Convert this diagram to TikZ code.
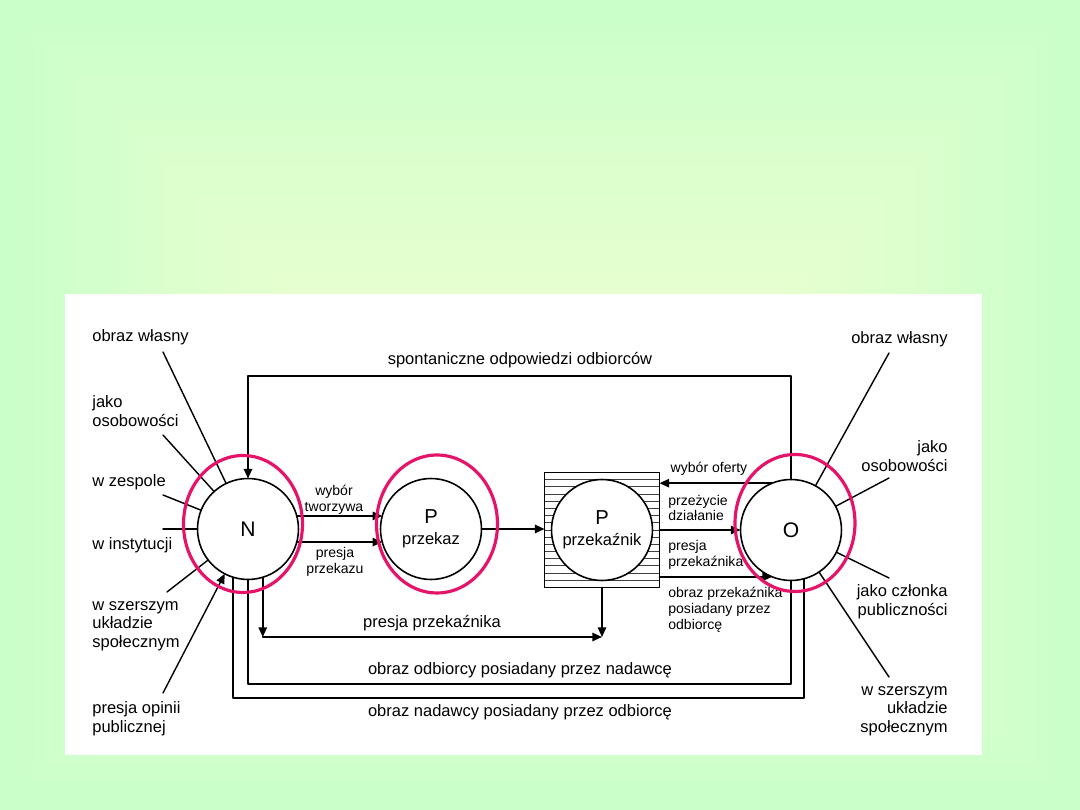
\documentclass[tikz,border=0pt]{standalone}
\usepackage{fontspec}
\setmainfont{Liberation Sans}
\usetikzlibrary{calc,arrows.meta}

\definecolor{bgout}{RGB}{202,255,202}
\definecolor{bgin}{RGB}{244,255,210}
\definecolor{ringpink}{RGB}{230,20,105}

\begin{document}
\begin{tikzpicture}[x=0.02cm,y=-0.02cm,line cap=round,line join=round,
  >={Triangle[length=5.5pt,width=4.8pt]},
  wire/.style={line width=0.9pt},
  arr/.style={wire,->},
  spoke/.style={line width=0.8pt},
  osoba/.style={circle,draw,line width=0.9pt,fill=white,minimum size=2.02cm,
    inner sep=0pt,outer sep=0pt,align=center,font=\fontsize{9.4}{12}\selectfont},
  ring/.style={ringpink,line width=1.8pt},
  hatch/.style={black!75,line width=0.5pt},
  opis/.style={inner sep=0pt,font=\fontsize{9.4}{10.6}\selectfont},
  maly/.style={inner sep=0pt,font=\fontsize{8}{9}\selectfont}]

% -----------------------
% Tlo (gradient prostokatny)
% -----------------------
\foreach \i in {0,...,27} {
  \pgfmathtruncatemacro\mix{100*\i/27}
  \fill[bgin!\mix!bgout] (15*\i,15*\i) rectangle (1080-15*\i,810-15*\i);
}
\useasboundingbox (0,0) rectangle (1080,810);
\fill[white] (65,294) rectangle (982,755);

% -----------------------
% Kola: nadawca, przekaz, przekaznik, odbiorca
% -----------------------
\node[osoba] (N) at (248,529) {\fontsize{12}{12}\selectfont N};
\node[osoba] (P) at (431,529) {{\fontsize{11.5}{12}\selectfont P}\\przekaz};

\node[minimum size=2.3cm,inner sep=0pt,outer sep=0pt] (box) at (602,530) {};
\foreach \k in {1,...,15}
  \draw[hatch] ($(box.north west)!\k/16!(box.south west)$) -- ($(box.north east)!\k/16!(box.south east)$);
\draw[line width=0.7pt] (box.north west) rectangle (box.south east);
\node[osoba] (PP) at (box.center) {{\fontsize{11.5}{12}\selectfont P}\\przekaźnik};

\node[osoba] (O) at (791,530) {\fontsize{12}{12}\selectfont O};

% -----------------------
% Strzalki glowne
% -----------------------
\draw[arr] (N.15) -- (P.165);
\draw[arr] (N.-15) -- (P.-165);
\draw[arr] (P.east) -- (P.east -| box.west);
\draw[arr] (O.112) -- (O.112 -| box.east);
\draw[arr] (box.east |- O.west) -- (O.west);
\draw[arr] (box.east |- O.248) -- (O.248);

\node[maly,align=center] (lWT) at (334,500) {wybór\\tworzywa};
\node[maly,align=center] (lPK) at (335,562) {presja\\przekazu};
\node[maly] (lWO) at (709,469) {wybór oferty};
\node[maly,anchor=west,align=left] (lPD) at (668,508) {przeżycie\\działanie};
\node[maly,anchor=west,align=left] (lPP) at (668,555) {presja\\przekaźnika};
\node[maly,anchor=west,align=left] (lOP) at (668,610) {obraz przekaźnika\\posiadany przez\\odbiorcę};

% -----------------------
% Petle sprzezenia
% -----------------------
\coordinate (spont) at (520,376);
\coordinate (pp) at (432,637);
\coordinate (oo) at (520,684);
\coordinate (on) at (520,698);

\draw[arr] (O.north) |- (N.north |- spont) -- (N.north);
\draw[arr] (N.-73) -- (N.-73 |- pp);
\draw[arr] (N.-73 |- pp) -- (box.south |- pp);
\draw[arr] (box.south) -- (box.south |- pp);
\draw[wire] (N.south) |- (O.south |- oo) -- (O.south);
\draw[wire] (N.-107) |- (O.-75 |- on) -- (O.-75);

\node[opis] (lSp) at (520,360) {spontaniczne odpowiedzi odbiorców};
\node[opis] (lPr) at (432,623) {presja przekaźnika};
\node[opis] (lOO) at (520,670) {obraz odbiorcy posiadany przez nadawcę};
\node[opis] (lON) at (520,712) {obraz nadawcy posiadany przez odbiorcę};

% -----------------------
% Czynniki po lewej (nadawca)
% -----------------------
\node[opis,anchor=west] (tL1) at (92,337) {obraz własny};
\node[opis,anchor=west,align=left] (tL2) at (92,411) {jako\\osobowości};
\node[opis,anchor=west] (tL3) at (92,482) {w zespole};
\node[opis,anchor=west] (tL4) at (92,545) {w instytucji};
\node[opis,anchor=west,align=left] (tL5) at (92,626) {w szerszym\\układzie\\społecznym};
\node[opis,anchor=west,align=left] (tL6) at (92,719) {presja opinii\\publicznej};

\coordinate (sL1) at (163,352);
\coordinate (sL2) at (163,435);
\coordinate (sL3) at (163,495);
\coordinate (sL4) at (163,529);
\coordinate (sL5) at (167,592);
\coordinate (sL6) at (163,693);
\foreach \s in {sL1,sL2,sL3,sL4,sL5}
  \draw[spoke] (\s) -- (N);
\draw[spoke,->] (sL6) -- (N);

% -----------------------
% Czynniki po prawej (odbiorca)
% -----------------------
\node[opis,anchor=east] (tR1) at (948,339) {obraz własny};
\node[opis,anchor=east,align=right] (tR2) at (948,456) {jako\\osobowości};
\node[opis,anchor=east,align=right] (tR3) at (948,602) {jako członka\\publiczności};
\node[opis,anchor=east,align=right] (tR4) at (948,711) {w szerszym\\układzie\\społecznym};

\coordinate (sR1) at (889,353);
\coordinate (sR2) at (889,478);
\coordinate (sR3) at (889,578);
\coordinate (sR4) at (889,677);
\foreach \s in {sR1,sR2,sR3,sR4}
  \draw[spoke] (\s) -- (O);

% -----------------------
% Rozowe obwodki
% -----------------------
\draw[ring] (243,524) ellipse [x radius=1.19cm, y radius=1.37cm];
\draw[ring] (437,524) ellipse [x radius=1.21cm, y radius=1.38cm];
\draw[ring] (795,523) ellipse [x radius=1.2cm, y radius=1.37cm];

\end{tikzpicture}
\end{document}
